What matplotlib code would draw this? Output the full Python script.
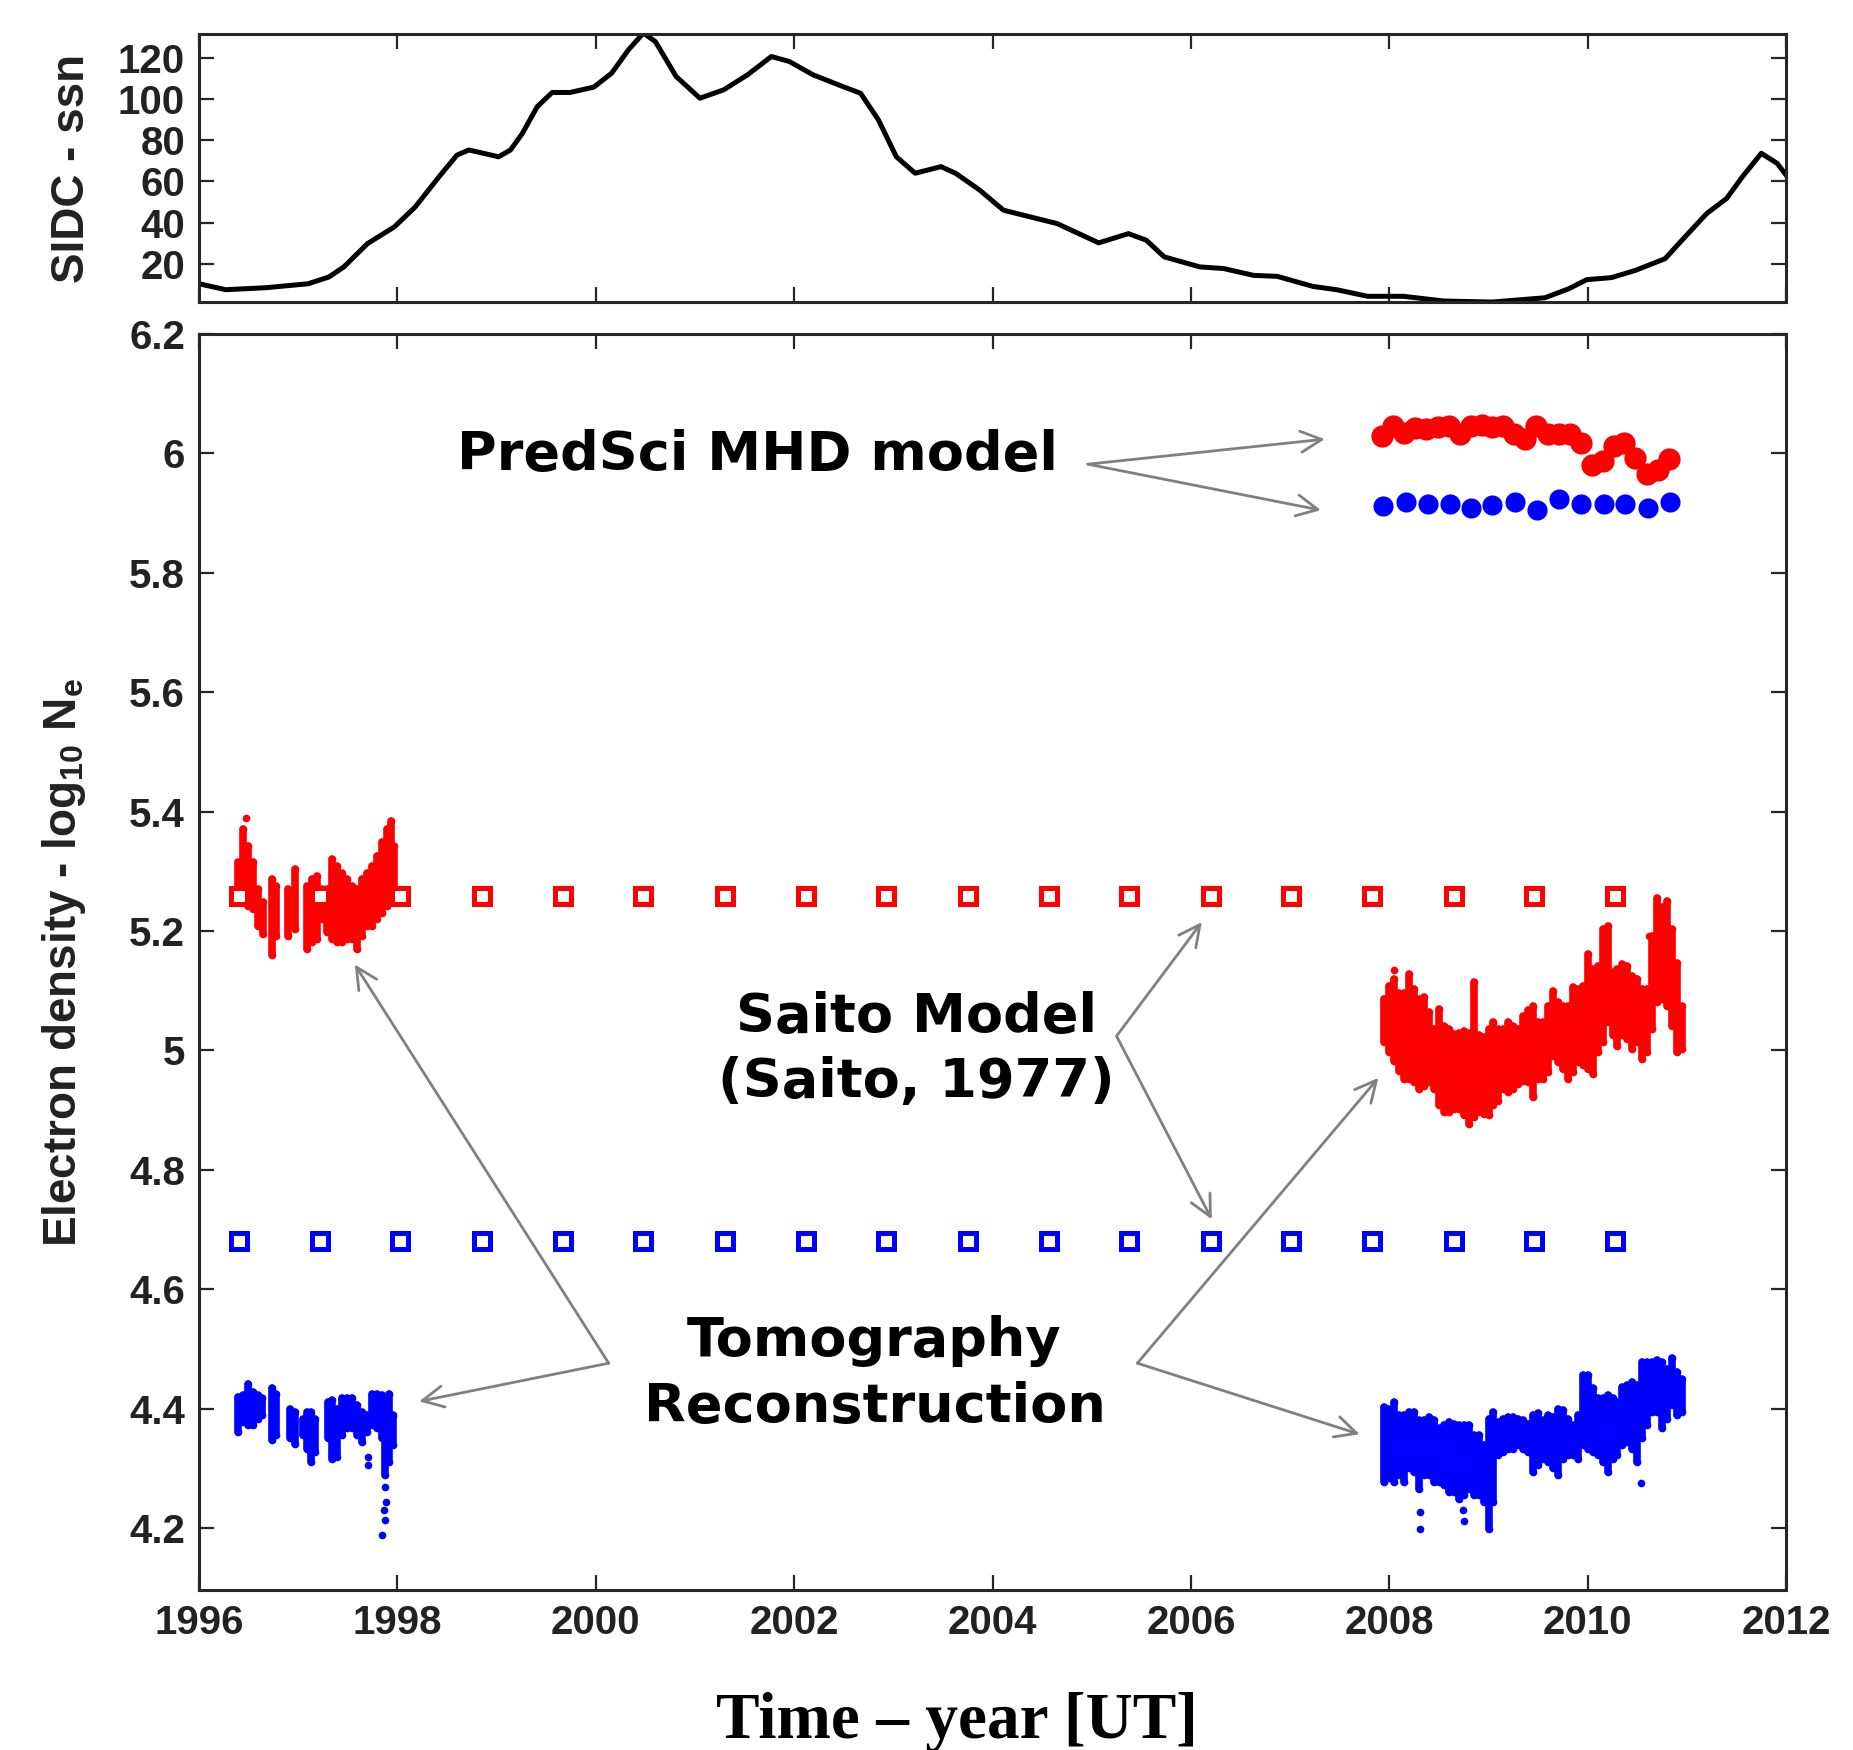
import numpy as np
import matplotlib
matplotlib.use('Agg')
import matplotlib.pyplot as plt
from matplotlib.ticker import FormatStrFormatter

plt.rcParams['font.family'] = ['Liberation Sans', 'DejaVu Sans']
plt.rcParams['font.weight'] = 'bold'
plt.rcParams['mathtext.fontset'] = 'custom'
plt.rcParams['mathtext.rm'] = 'Liberation Sans:bold'
plt.rcParams['mathtext.it'] = 'Liberation Sans:bold'
plt.rcParams['mathtext.bf'] = 'Liberation Sans:bold'

# --- sunspot number (SIDC), smoothed ---
ssn_year = [1996.00, 1996.27, 1996.68, 1997.10, 1997.31, 1997.46, 1997.70, 1997.97, 1998.18,
            1998.42, 1998.60, 1998.72, 1998.84, 1999.02, 1999.14, 1999.26, 1999.41, 1999.56,
            1999.74, 1999.98, 2000.16, 2000.33, 2000.48, 2000.60, 2000.81, 2001.05, 2001.29,
            2001.53, 2001.77, 2001.95, 2002.19, 2002.49, 2002.67, 2002.85, 2003.03, 2003.22,
            2003.48, 2003.63, 2003.87, 2004.11, 2004.35, 2004.65, 2005.07, 2005.37, 2005.55,
            2005.73, 2006.09, 2006.33, 2006.63, 2006.87, 2007.23, 2007.47, 2007.78, 2008.14,
            2008.55, 2009.04, 2009.57, 2009.81, 2009.99, 2010.24, 2010.48, 2010.78, 2010.95,
            2011.20, 2011.40, 2011.56, 2011.75, 2011.91, 2012.00]
ssn = [10.2, 7.3, 8.3, 10.2, 13.5, 18.4, 29.8, 37.9, 47.6,
       62.3, 72.8, 75.3, 74.0, 72.0, 75.3, 83.4, 96.4, 103.3,
       103.3, 105.9, 112.7, 124.1, 132.2, 128.1, 111.1, 100.5, 104.6,
       111.9, 120.8, 118.4, 111.9, 106.2, 102.9, 89.9, 72.0, 64.0,
       67.2, 63.9, 55.8, 46.0, 43.1, 39.5, 30.1, 34.6, 31.4,
       23.3, 18.4, 17.6, 14.3, 13.8, 8.9, 7.3, 4.1, 4.1,
       1.8, 1.3, 3.4, 7.8, 12.2, 13.2, 16.7, 22.4, 31.4,
       44.4, 51.7, 62.3, 73.7, 68.8, 63.1]

# --- Saito model ---
saito_year = [1996.40, 1997.22, 1998.03, 1998.85, 1999.67, 2000.48, 2001.30, 2002.12, 2002.93,
              2003.75, 2004.57, 2005.38, 2006.20, 2007.01, 2007.83, 2008.65, 2009.46, 2010.28]
saito_red = 5.259
saito_blue = 4.680

# --- PredSci MHD model ---
mhd_red_year = [2007.93, 2008.04, 2008.15, 2008.26, 2008.37, 2008.49, 2008.60, 2008.71, 2008.82,
                2008.93, 2009.04, 2009.15, 2009.26, 2009.37, 2009.48, 2009.60, 2009.71, 2009.82,
                2009.93, 2010.04, 2010.15, 2010.26, 2010.37, 2010.48, 2010.60, 2010.71, 2010.82]
mhd_red = [6.030, 6.046, 6.034, 6.043, 6.041, 6.045, 6.046, 6.032, 6.046,
           6.048, 6.045, 6.046, 6.032, 6.024, 6.046, 6.033, 6.033, 6.032,
           6.018, 5.980, 5.987, 6.012, 6.018, 5.993, 5.965, 5.973, 5.991]
mhd_blue_year = [2007.94, 2008.17, 2008.39, 2008.61, 2008.82, 2009.04, 2009.27,
                 2009.49, 2009.71, 2009.93, 2010.16, 2010.38, 2010.61, 2010.83]
mhd_blue = [5.912, 5.918, 5.916, 5.916, 5.908, 5.914, 5.919,
            5.905, 5.923, 5.916, 5.916, 5.916, 5.908, 5.919]

# --- Tomography reconstruction, 1996-1997 (spread per time bin: low / high) ---
red_left_year = [1996.397, 1996.447, 1996.498, 1996.548, 1996.598, 1996.642, 1996.733, 1996.777,
                 1996.901, 1996.968, 1997.086, 1997.136, 1997.187, 1997.237, 1997.288, 1997.338,
                 1997.389, 1997.439, 1997.490, 1997.540, 1997.591, 1997.641, 1997.691, 1997.742,
                 1997.792, 1997.843, 1997.893, 1997.937, 1997.967]
red_left_hi = [5.315, 5.371, 5.343, 5.315, 5.270, 5.248, 5.287, 5.276,
               5.270, 5.304, 5.276, 5.287, 5.293, 5.270, 5.270, 5.321,
               5.309, 5.298, 5.287, 5.276, 5.270, 5.287, 5.298, 5.309,
               5.326, 5.349, 5.371, 5.385, 5.343]
red_left_lo = [5.265, 5.254, 5.242, 5.237, 5.209, 5.195, 5.159, 5.192,
               5.192, 5.203, 5.170, 5.181, 5.187, 5.220, 5.198, 5.187,
               5.181, 5.181, 5.187, 5.187, 5.170, 5.192, 5.209, 5.209,
               5.220, 5.231, 5.242, 5.254, 5.270]
red_left_out_year = [1996.474]
red_left_out = [5.390]

blue_left_year = [1996.397, 1996.447, 1996.498, 1996.548, 1996.598, 1996.632, 1996.733, 1996.777,
                  1996.918, 1996.968, 1997.052, 1997.086, 1997.126, 1997.170, 1997.305, 1997.338,
                  1997.389, 1997.439, 1997.490, 1997.540, 1997.591, 1997.641, 1997.691, 1997.742,
                  1997.792, 1997.843, 1997.876, 1997.920, 1997.960]
blue_left_hi = [4.420, 4.422, 4.442, 4.428, 4.422, 4.417, 4.434, 4.425,
                4.400, 4.394, 4.383, 4.394, 4.394, 4.383, 4.411, 4.414,
                4.400, 4.417, 4.417, 4.417, 4.406, 4.394, 4.389, 4.425,
                4.425, 4.422, 4.406, 4.425, 4.389]
blue_left_lo = [4.361, 4.378, 4.372, 4.372, 4.383, 4.389, 4.347, 4.355,
                4.350, 4.341, 4.355, 4.333, 4.311, 4.328, 4.350, 4.316,
                4.319, 4.355, 4.367, 4.367, 4.355, 4.344, 4.361, 4.372,
                4.367, 4.350, 4.289, 4.311, 4.339]
blue_left_out_year = [1997.708, 1997.708, 1997.876, 1997.886, 1997.860, 1997.876, 1997.849]
blue_left_out = [4.319, 4.306, 4.269, 4.244, 4.230, 4.213, 4.189]

# --- Tomography reconstruction, 2008-2010 ---
right_year = [2007.95, 2008.00, 2008.05, 2008.10, 2008.15, 2008.20, 2008.25, 2008.30, 2008.35,
              2008.40, 2008.45, 2008.50, 2008.55, 2008.60, 2008.65, 2008.70, 2008.75, 2008.80,
              2008.85, 2008.90, 2008.95, 2009.00, 2009.05, 2009.10, 2009.15, 2009.20, 2009.25,
              2009.30, 2009.35, 2009.40, 2009.45, 2009.50, 2009.55, 2009.60, 2009.65, 2009.70,
              2009.75, 2009.80, 2009.85, 2009.90, 2009.95, 2010.00, 2010.05, 2010.10, 2010.15,
              2010.20, 2010.25, 2010.30, 2010.35, 2010.40, 2010.45, 2010.50, 2010.55, 2010.60,
              2010.65, 2010.70, 2010.75, 2010.80, 2010.85, 2010.90, 2010.95]
red_right_hi = [5.086, 5.108, 5.120, 5.097, 5.097, 5.128, 5.103, 5.086, 5.089,
                5.064, 5.036, 5.069, 5.041, 5.036, 5.028, 5.030, 5.033, 5.030,
                5.114, 5.025, 5.022, 5.036, 5.047, 5.036, 5.036, 5.047, 5.041,
                5.036, 5.058, 5.067, 5.075, 5.047, 5.047, 5.075, 5.100, 5.081,
                5.075, 5.075, 5.106, 5.103, 5.108, 5.161, 5.136, 5.142, 5.203,
                5.209, 5.131, 5.136, 5.145, 5.142, 5.125, 5.120, 5.103, 5.103,
                5.192, 5.256, 5.240, 5.251, 5.203, 5.147, 5.075]
red_right_lo = [5.014, 4.997, 4.983, 4.966, 4.952, 4.952, 4.947, 4.935, 4.941,
                4.947, 4.935, 4.908, 4.896, 4.896, 4.902, 4.902, 4.891, 4.877,
                4.888, 4.896, 4.894, 4.891, 4.908, 4.916, 4.935, 4.930, 4.935,
                4.944, 4.949, 4.947, 4.922, 4.952, 4.952, 4.963, 4.991, 4.980,
                4.969, 4.952, 4.963, 4.980, 4.975, 4.969, 4.961, 4.997, 5.014,
                5.047, 5.025, 5.008, 5.025, 5.019, 5.002, 5.014, 4.986, 4.997,
                5.036, 5.081, 5.086, 5.075, 5.041, 4.997, 5.002]
red_right_out_year = [2008.048, 2009.444, 2010.621]
red_right_out = [5.135, 4.923, 5.192]

blue_right_hi = [4.403, 4.400, 4.411, 4.389, 4.389, 4.394, 4.394, 4.381, 4.381,
                 4.386, 4.381, 4.367, 4.372, 4.378, 4.375, 4.372, 4.372, 4.372,
                 4.355, 4.355, 4.339, 4.383, 4.394, 4.378, 4.383, 4.386, 4.386,
                 4.383, 4.381, 4.375, 4.389, 4.392, 4.381, 4.389, 4.386, 4.400,
                 4.397, 4.383, 4.372, 4.389, 4.456, 4.456, 4.434, 4.417, 4.417,
                 4.422, 4.417, 4.411, 4.436, 4.439, 4.445, 4.439, 4.478, 4.478,
                 4.478, 4.481, 4.478, 4.467, 4.484, 4.461, 4.450]
blue_right_lo = [4.277, 4.283, 4.277, 4.289, 4.277, 4.300, 4.294, 4.266, 4.289,
                 4.289, 4.277, 4.277, 4.272, 4.261, 4.261, 4.249, 4.255, 4.266,
                 4.255, 4.255, 4.244, 4.199, 4.244, 4.322, 4.328, 4.333, 4.333,
                 4.339, 4.333, 4.328, 4.294, 4.305, 4.316, 4.311, 4.300, 4.289,
                 4.316, 4.322, 4.322, 4.316, 4.339, 4.333, 4.328, 4.322, 4.311,
                 4.294, 4.316, 4.322, 4.339, 4.344, 4.333, 4.311, 4.350, 4.372,
                 4.394, 4.394, 4.367, 4.383, 4.406, 4.389, 4.394]
blue_right_out_year = [2008.312, 2008.312, 2008.739, 2008.756, 2010.538]
blue_right_out = [4.227, 4.199, 4.230, 4.211, 4.276]

RED = '#ff0000'
BLUE = '#0000ff'
GRAY = '#808080'
SPINE = '#262626'


def style_axis(ax):
    for s in ax.spines.values():
        s.set_linewidth(2.2)
        s.set_color(SPINE)
    ax.tick_params(direction='in', length=11, width=1.6, top=True, right=True,
                   labelsize=29, pad=10, colors=SPINE)
    ax.tick_params(labelcolor='#222222')


def cluster(ax, x, lo, hi, color):
    ax.vlines(x, lo, hi, colors=color, linewidth=5.5, capstyle='round', zorder=2)
    # dotted look on the edges of each bin
    ax.plot(x, lo, 'o', color=color, ms=5.5, mew=0, zorder=2)
    ax.plot(x, hi, 'o', color=color, ms=5.5, mew=0, zorder=2)


fig = plt.figure(figsize=(18.53, 17.5), dpi=100)
ax_top = fig.add_axes([0.1074, 0.8274, 0.8565, 0.1531])
ax = fig.add_axes([0.1074, 0.0914, 0.8565, 0.7177])

# top panel: sunspot number
ax_top.plot(ssn_year, ssn, color='black', lw=3.6, solid_joinstyle='round')
ax_top.set_xlim(1996, 2012)
ax_top.set_ylim(1.3, 131.7)
ax_top.set_xticks(np.arange(1996, 2013, 2))
ax_top.set_xticklabels([])
ax_top.set_yticks([20, 40, 60, 80, 100, 120])
style_axis(ax_top)
ax_top.set_ylabel('SIDC - ssn', fontsize=33, fontweight='bold', color='#222222')
ax_top.yaxis.set_label_coords(-0.066, 0.5)

# bottom panel: electron density
cluster(ax, red_left_year, red_left_lo, red_left_hi, RED)
cluster(ax, blue_left_year, blue_left_lo, blue_left_hi, BLUE)
cluster(ax, right_year, red_right_lo, red_right_hi, RED)
cluster(ax, right_year, blue_right_lo, blue_right_hi, BLUE)
for xs, ys, c in [(red_left_out_year, red_left_out, RED),
                  (blue_left_out_year, blue_left_out, BLUE),
                  (red_right_out_year, red_right_out, RED),
                  (blue_right_out_year, blue_right_out, BLUE)]:
    ax.plot(xs, ys, 'o', color=c, ms=5.5, mew=0, zorder=2)

ax.plot(saito_year, [saito_red] * len(saito_year), 's', ms=11.5, mfc='white',
        mec=RED, mew=3.6, zorder=3)
ax.plot(saito_year, [saito_blue] * len(saito_year), 's', ms=11.5, mfc='white',
        mec=BLUE, mew=3.6, zorder=3)

ax.plot(mhd_red_year, mhd_red, 'o', color=RED, ms=16, mew=0, zorder=3)
ax.plot(mhd_blue_year, mhd_blue, 'o', color=BLUE, ms=14.5, mew=0, zorder=3)

ax.set_xlim(1996, 2012)
ax.set_ylim(4.096, 6.2)
ax.set_xticks(np.arange(1996, 2013, 2))
ax.set_yticks([4.2, 4.4, 4.6, 4.8, 5.0, 5.2, 5.4, 5.6, 5.8, 6.0, 6.2])
ax.yaxis.set_major_formatter(FormatStrFormatter('%g'))
style_axis(ax)
ax.set_ylabel(r'Electron density - log$_{10}$ N$_e$', fontsize=33,
              fontweight='bold', color='#222222')
ax.yaxis.set_label_coords(-0.07, 0.5)

# annotations
txt_kw = dict(family='DejaVu Sans', fontweight='bold', fontsize=39, color='black',
              ha='center', va='center', linespacing=1.32)
ax.text(2001.63, 5.997, 'PredSci MHD model', **txt_kw)
ax.text(2003.23, 5.001, 'Saito Model\n(Saito, 1977)', **txt_kw)
ax.text(2002.81, 4.458, 'Tomography\nReconstruction', **txt_kw)

arrows = [((2004.96, 5.982), (2007.35, 6.024)),
          ((2004.96, 5.982), (2007.31, 5.905)),
          ((2005.25, 5.024), (2006.11, 5.215)),
          ((2005.25, 5.024), (2006.21, 4.717)),
          ((2000.13, 4.476), (1997.57, 5.144)),
          ((2000.13, 4.476), (1998.22, 4.412)),
          ((2005.46, 4.476), (2007.89, 4.954)),
          ((2005.46, 4.476), (2007.70, 4.357))]
for start, end in arrows:
    ax.annotate('', xy=end, xytext=start,
                arrowprops=dict(arrowstyle='->', color=GRAY, lw=2.0,
                                mutation_scale=38, shrinkA=0, shrinkB=0))

fig.text(0.5165, 0.007, 'Time – year [UT]', family='Liberation Serif',
         fontweight='bold', fontsize=47, ha='center', va='baseline')

fig.savefig('out.png', dpi=100)
